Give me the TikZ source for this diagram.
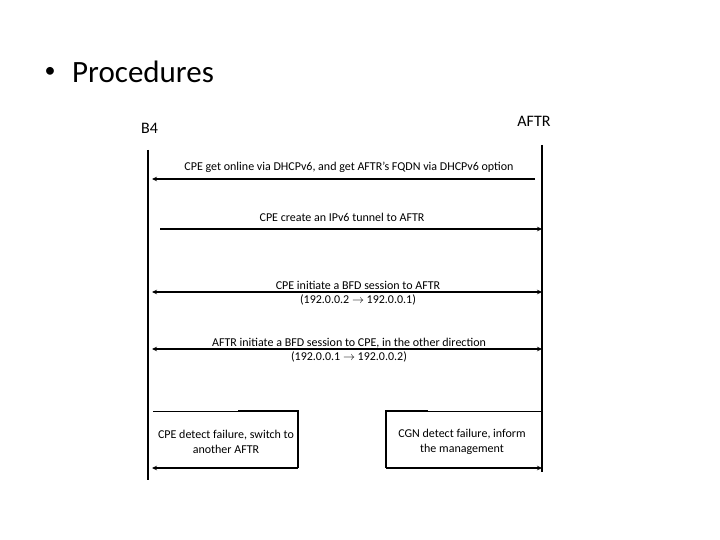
\documentclass[tikz,border=0pt]{standalone}
\usepackage{fontspec}
\setmainfont{Carlito}
\usetikzlibrary{arrows.meta}
\begin{document}
\begin{tikzpicture}[x=1pt,y=-1pt,
  msg/.style={line width=1.4pt},
  tip/.style={-{Stealth[length=5pt,width=4.5pt]}},
  bothtip/.style={{Stealth[length=5pt,width=4.5pt]}-{Stealth[length=5pt,width=4.5pt]}},
  lbl/.style={font=\fontsize{12}{14}\selectfont, inner sep=0pt, align=center},
  boxtxt/.style={font=\fontsize{12}{15.5}\selectfont, inner sep=0pt, align=center},
  actor/.style={inner sep=0pt, font=\fontsize{16}{18}\selectfont}]
\useasboundingbox (0,0) rectangle (720,540);
% title
\node[inner sep=0pt, font=\fontsize{22}{24}\selectfont] (bul) at (50,72) {\textbullet};
\node[anchor=base west, inner sep=0pt, font=\fontsize{31}{36}\selectfont] (title) at (72,83) {Procedures};
% actors
\node[actor] (b4) at (149.5,128) {B4};
\node[actor] (aftr) at (534,121) {AFTR};
% lifelines
\coordinate (L0) at (148,150);
\coordinate (L1) at (148,480);
\coordinate (R0) at (542,145);
\coordinate (R1) at (542,472);
\draw[line width=2.6pt] (L0) -- (L1);
\draw[line width=1.8pt] (R0) -- (R1);
% message 1
\coordinate (m1a) at (535,179);
\coordinate (m1b) at (152,179);
\draw[msg,tip] (m1a) -- (m1b);
\node[lbl] (t1) at (349,167) {CPE get online via DHCPv6, and get AFTR’s FQDN via DHCPv6 option};
% message 2
\coordinate (m2a) at (160,229);
\coordinate (m2b) at (542,229);
\draw[msg,tip] (m2a) -- (m2b);
\node[lbl] (t2) at (342,217) {CPE create an IPv6 tunnel to AFTR};
% message 3
\coordinate (m3a) at (152,292);
\coordinate (m3b) at (542,292);
\draw[msg,bothtip] (m3a) -- (m3b);
\node[lbl] (t3) at (358,293) {CPE initiate a BFD session to AFTR\\(192.0.0.2 \(\rightarrow\) 192.0.0.1)};
% message 4
\coordinate (m4a) at (152,349);
\coordinate (m4b) at (542,349);
\draw[msg,bothtip] (m4a) -- (m4b);
\node[lbl] (t4) at (349,350) {AFTR initiate a BFD session to CPE, in the other direction\\(192.0.0.1 \(\rightarrow\) 192.0.0.2)};
% left box
\coordinate (lb1) at (153,411);
\coordinate (lb2) at (238,411);
\coordinate (lb3) at (298,411);
\coordinate (lb4) at (298,468);
\coordinate (lb5) at (152,468);
\draw[line width=0.5pt] (lb1) -- (lb2);
\draw[line width=1.2pt] (lb2) -- (lb3) -- (lb4);
\draw[msg,tip] (lb4) -- (lb5);
\node[boxtxt] (t5) at (226,442) {CPE detect failure, switch to\\another AFTR};
% right box
\coordinate (rb1) at (542,411);
\coordinate (rb2) at (428,411);
\coordinate (rb3) at (386,411);
\coordinate (rb4) at (386,468);
\coordinate (rb5) at (542,468);
\draw[line width=0.5pt] (rb1) -- (rb2);
\draw[line width=1.2pt] (rb2) -- (rb3) -- (rb4);
\draw[msg,tip] (rb4) -- (rb5);
\node[boxtxt] (t6) at (462,442) {CGN detect failure, inform\\the management};
\end{tikzpicture}
\end{document}
